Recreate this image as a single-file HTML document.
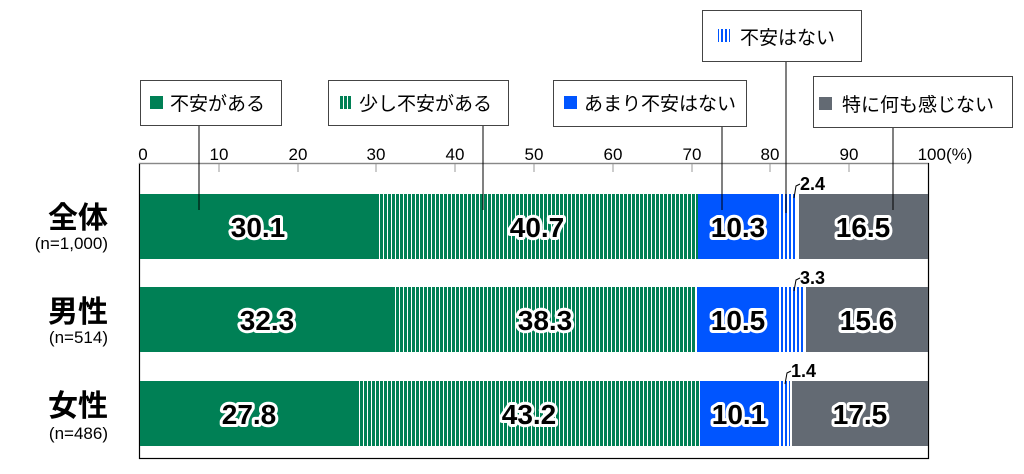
<!DOCTYPE html>
<html><head><meta charset="utf-8"><style>
body{margin:0;background:#fff;}
svg{display:block;font-family:"Liberation Sans","Noto Sans CJK JP",sans-serif;}
.v{font-size:28px;font-weight:bold;fill:#000;stroke:#fff;stroke-width:6px;paint-order:stroke;stroke-linejoin:round;text-anchor:middle;}
.s{font-size:18px;font-weight:bold;fill:#000;stroke:#fff;stroke-width:3px;paint-order:stroke;}
.t{font-size:17px;fill:#000;text-anchor:middle;}
.lg{font-size:19px;fill:#000;}
</style></head><body>
<svg width="1024" height="474" viewBox="0 0 1024 474">
<defs>
<pattern id="gs" width="4" height="10" patternUnits="userSpaceOnUse"><rect width="4" height="10" fill="#008055"/><rect x="3" width="1" height="10" fill="#fff"/></pattern>
<pattern id="bs" width="4" height="10" patternUnits="userSpaceOnUse"><rect width="4" height="10" fill="#fff"/><rect x="1" width="2" height="10" fill="#0055ff"/></pattern>
</defs>
<rect x="139.5" y="163.5" width="789" height="295" fill="none" stroke="#000" stroke-width="1.2"/>
<line x1="139" y1="163.5" x2="928" y2="163.5" stroke="#888"/>
<g stroke="#999">
<line x1="219" y1="164" x2="219" y2="172"/><line x1="298" y1="164" x2="298" y2="172"/><line x1="376" y1="164" x2="376" y2="172"/><line x1="455" y1="164" x2="455" y2="172"/><line x1="534" y1="164" x2="534" y2="172"/><line x1="613" y1="164" x2="613" y2="172"/><line x1="692" y1="164" x2="692" y2="172"/><line x1="770" y1="164" x2="770" y2="172"/><line x1="849" y1="164" x2="849" y2="172"/>
</g>
<g class="t">
<text x="143" y="160">0</text><text x="219" y="160">10</text><text x="298" y="160">20</text><text x="376" y="160">30</text><text x="455" y="160">40</text><text x="534" y="160">50</text><text x="613" y="160">60</text><text x="692" y="160">70</text><text x="770" y="160">80</text><text x="849" y="160">90</text><text x="945" y="160">100(%)</text>
</g>
<rect x="140" y="194" width="237" height="65" fill="#008055"/>
<rect x="377" y="194" width="321" height="65" fill="url(#gs)"/>
<rect x="698" y="194" width="81" height="65" fill="#0055ff"/>
<rect x="780" y="194" width="17" height="65" fill="url(#bs)"/>
<rect x="799" y="194" width="129" height="65" fill="#636a73"/>
<rect x="140" y="287" width="254" height="65" fill="#008055"/>
<rect x="394" y="287" width="302" height="65" fill="url(#gs)"/>
<rect x="697" y="287" width="82" height="65" fill="#0055ff"/>
<rect x="780" y="287" width="24" height="65" fill="url(#bs)"/>
<rect x="806" y="287" width="122" height="65" fill="#636a73"/>
<rect x="140" y="381" width="219" height="65" fill="#008055"/>
<rect x="359" y="381" width="340" height="65" fill="url(#gs)"/>
<rect x="700" y="381" width="79" height="65" fill="#0055ff"/>
<rect x="780" y="381" width="10" height="65" fill="url(#bs)"/>
<rect x="792" y="381" width="136" height="65" fill="#636a73"/>
<g stroke="#000" stroke-width="1">
<line x1="199" y1="125" x2="199" y2="210"/>
<line x1="483" y1="125" x2="483" y2="210"/>
<line x1="722" y1="127" x2="722" y2="210"/>
<line x1="786" y1="62" x2="786" y2="213"/>
<line x1="893" y1="127" x2="893" y2="210"/>
<polyline points="794,198 796,186 800,184" fill="none"/>
<polyline points="794,291 796,280 800,278" fill="none"/>
<polyline points="785,384 787,373 791,371" fill="none"/>
</g>
<text class="v" x="258" y="237">30.1</text><text class="v" x="537" y="237">40.7</text><text class="v" x="738" y="237">10.3</text><text class="v" x="863" y="237">16.5</text>
<text class="v" x="267" y="330">32.3</text><text class="v" x="545" y="330">38.3</text><text class="v" x="738" y="330">10.5</text><text class="v" x="867" y="330">15.6</text>
<text class="v" x="249" y="424">27.8</text><text class="v" x="529" y="424">43.2</text><text class="v" x="739" y="424">10.1</text><text class="v" x="860" y="424">17.5</text>
<text class="s" x="800" y="190">2.4</text><text class="s" x="800" y="284">3.3</text><text class="s" x="791" y="377">1.4</text>
<g text-anchor="end">
<text x="108" y="228" font-size="30" font-weight="bold">全体</text><text x="108" y="249" font-size="17">(n=1,000)</text>
<text x="108" y="322" font-size="30" font-weight="bold">男性</text><text x="108" y="343" font-size="17">(n=514)</text>
<text x="108" y="416" font-size="30" font-weight="bold">女性</text><text x="108" y="439" font-size="17">(n=486)</text>
</g>
<g fill="#fff" stroke="#444" stroke-width="1">
<rect x="140.5" y="80.5" width="141" height="45"/>
<rect x="328.5" y="80.5" width="180" height="45"/>
<rect x="553.5" y="80.5" width="193" height="46"/>
<rect x="702.5" y="10.5" width="159" height="51"/>
<rect x="813.5" y="76.5" width="199" height="51"/>
</g>
<rect x="150" y="96" width="13" height="13" fill="#008055"/>
<rect x="339" y="96" width="13" height="13" fill="url(#gs)"/>
<rect x="564" y="96" width="13" height="13" fill="#0055ff"/>
<rect x="718" y="29" width="12" height="13" fill="url(#bs)"/>
<rect x="819" y="97" width="13" height="13" fill="#636a73"/>
<text class="lg" x="170" y="110">不安がある</text>
<text class="lg" x="359" y="110">少し不安がある</text>
<text class="lg" x="584" y="110">あまり不安はない</text>
<text class="lg" x="740" y="44">不安はない</text>
<text class="lg" x="842" y="111">特に何も感じない</text>
</svg>
</body></html>
